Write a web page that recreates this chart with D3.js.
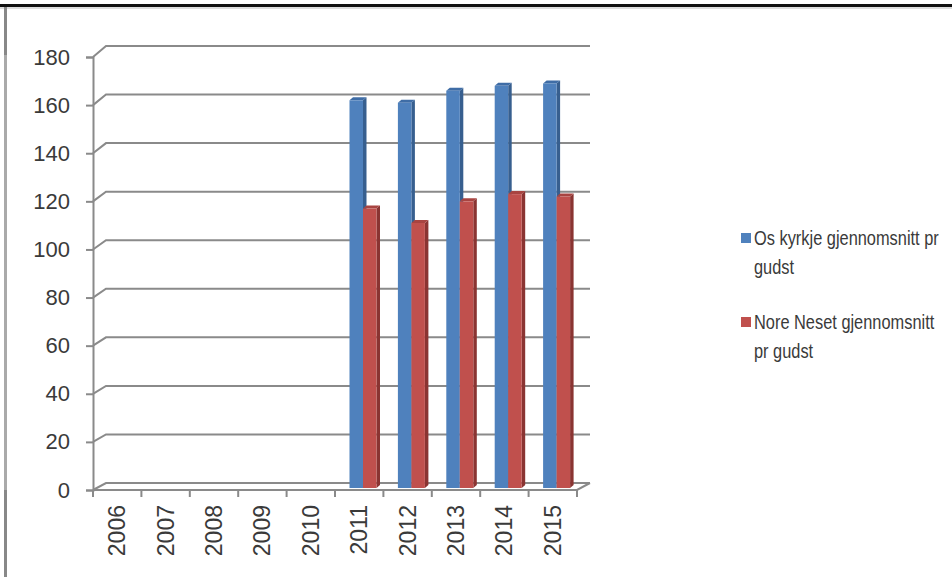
<!DOCTYPE html>
<html>
<head>
<meta charset="utf-8">
<script src="https://cdn.jsdelivr.net/npm/d3@7"></script>
<style>
	body { margin: 0; background: #fff; }
	svg { display: block; }
	.lbl { font-family: "Liberation Sans", Arial, sans-serif; fill: #3a3a3a; }
</style>
</head>
<body>
<div id="chart"></div>
<script>
// data
const years = ["2006", "2007", "2008", "2009", "2010", "2011", "2012", "2013", "2014", "2015"];
const osKyrkje = [null, null, null, null, null, 162, 161, 166, 168, 169];
const noreNeset = [null, null, null, null, null, 117, 111, 120, 123, 122];
const yTicks = [0, 20, 40, 60, 80, 100, 120, 140, 160, 180];
const seriesNames = ["Os kyrkje gjennomsnitt pr gudst", "Nore Neset gjennomsnitt pr gudst"];

const width = 952, height = 577;
const depthX = 13; // 3d wall offset

const svg = d3.select("#chart").append("svg")
	.attr("width", width)
	.attr("height", height);

// frame lines
svg.append("rect").attr("x", 0).attr("y", 4).attr("width", width).attr("height", 3).attr("fill", "#111");
svg.append("rect").attr("x", 0).attr("y", 7).attr("width", width).attr("height", 2).attr("fill", "#ddd");
svg.append("rect").attr("x", 4).attr("y", 7).attr("width", 3).attr("height", height - 7).attr("fill", "#aaa");
svg.append("rect").attr("x", 4).attr("y", 7).attr("width", 3).attr("height", 48).attr("fill", "#888");
svg.append("rect").attr("x", 4).attr("y", 490).attr("width", 3).attr("height", height - 490).attr("fill", "#888");

const x = d3.scaleBand()
	.domain(years)
	.range([93, 577]);

const yFront = d3.scaleLinear().domain([0, 180]).range([490, 57]);
const yBack = d3.scaleLinear().domain([0, 180]).range([483, 46]);

const gridColor = "#8a8a8a";

// back wall grid lines with the 3d diagonal
const grid = svg.append("g");
yTicks.forEach(function (t) {
	grid.append("path")
		.attr("d", `M${x.range()[0]},${yFront(t)}L${x.range()[0] + depthX},${yBack(t)}L${x.range()[1] + depthX},${yBack(t)}`)
		.attr("fill", "none")
		.attr("stroke", gridColor)
		.attr("stroke-width", 2);
});
// floor front edge
grid.append("path")
	.attr("d", `M${x.range()[0]},${yFront(0)}L${x.range()[1]},${yFront(0)}L${x.range()[1] + depthX},${yBack(0)}`)
	.attr("fill", "none")
	.attr("stroke", gridColor)
	.attr("stroke-width", 2);

// y axis
const yAxis = svg.append("g")
	.attr("transform", `translate(${x.range()[0]},0)`)
	.call(d3.axisLeft(yFront).tickValues(yTicks).tickSize(7).tickPadding(16));
yAxis.select(".domain").attr("stroke", gridColor).attr("stroke-width", 2);
yAxis.selectAll(".tick line").attr("stroke", gridColor).attr("stroke-width", 2);
yAxis.selectAll(".tick text").attr("class", "lbl").style("font-size", "22px").attr("fill", null);

// x axis
const xAxis = svg.append("g")
	.attr("transform", `translate(0,${yFront(0)})`)
	.call(d3.axisBottom(x).tickSize(0).tickFormat(""));
xAxis.select(".domain").remove();
const edges = years.map(function (d) { return x(d); }).concat([x.range()[1]]);
xAxis.selectAll(".edge").data(edges).join("line")
	.attr("x1", function (d) { return d; })
	.attr("x2", function (d) { return d; })
	.attr("y1", 0).attr("y2", 7)
	.attr("stroke", gridColor).attr("stroke-width", 2);
xAxis.selectAll(".yr").data(years).join("text")
	.attr("class", "lbl")
	.attr("transform", function (d) { return `translate(${x(d) + x.bandwidth() / 2 + 8},15) rotate(-90)`; })
	.attr("text-anchor", "end")
	.style("font-size", "23px")
	.text(function (d) { return d; });

// 3d bars
const bw = 13.5, bd = 3.5, bdy = 3;
function bar(g, x0, v, front, side, top) {
	const yb = yFront(0) - 2, yt = yFront(v);
	g.append("path")
		.attr("d", `M${x0 + bw},${yb}L${x0 + bw + bd},${yb - bdy}L${x0 + bw + bd},${yt - bdy}L${x0 + bw},${yt}Z`)
		.attr("fill", side);
	g.append("path")
		.attr("d", `M${x0},${yt}L${x0 + bd},${yt - bdy}L${x0 + bw + bd},${yt - bdy}L${x0 + bw},${yt}Z`)
		.attr("fill", top);
	g.append("rect")
		.attr("x", x0).attr("y", yt)
		.attr("width", bw).attr("height", yb - yt)
		.attr("fill", front);
}
const bars = svg.append("g");
years.forEach(function (yr, i) {
	if (osKyrkje[i] != null) bar(bars, x(yr) + 14.5, osKyrkje[i], "#4f81bd", "#375f8f", "#3f6da6");
	if (noreNeset[i] != null) bar(bars, x(yr) + 28, noreNeset[i], "#c0504d", "#8a3432", "#a84441");
});

// legend (text squeezed to match the narrow original font)
const legend = svg.append("g");
const legColors = ["#4f81bd", "#c0504d"];
const legLines = [["Os kyrkje gjennomsnitt pr", "gudst"], ["Nore Neset gjennomsnitt", "pr gudst"]];
const legY = [245, 329];
const squeeze = 0.78;
seriesNames.forEach(function (n, i) {
	legend.append("rect")
		.attr("x", 741).attr("y", legY[i] - 12)
		.attr("width", 10).attr("height", 10)
		.attr("fill", legColors[i]);
	legLines[i].forEach(function (line, j) {
		legend.append("text")
			.attr("class", "lbl")
			.attr("transform", `translate(754,${legY[i] + j * 29}) scale(${squeeze},1)`)
			.style("font-size", "21px")
			.text(line);
	});
});
</script>
</body>
</html>
